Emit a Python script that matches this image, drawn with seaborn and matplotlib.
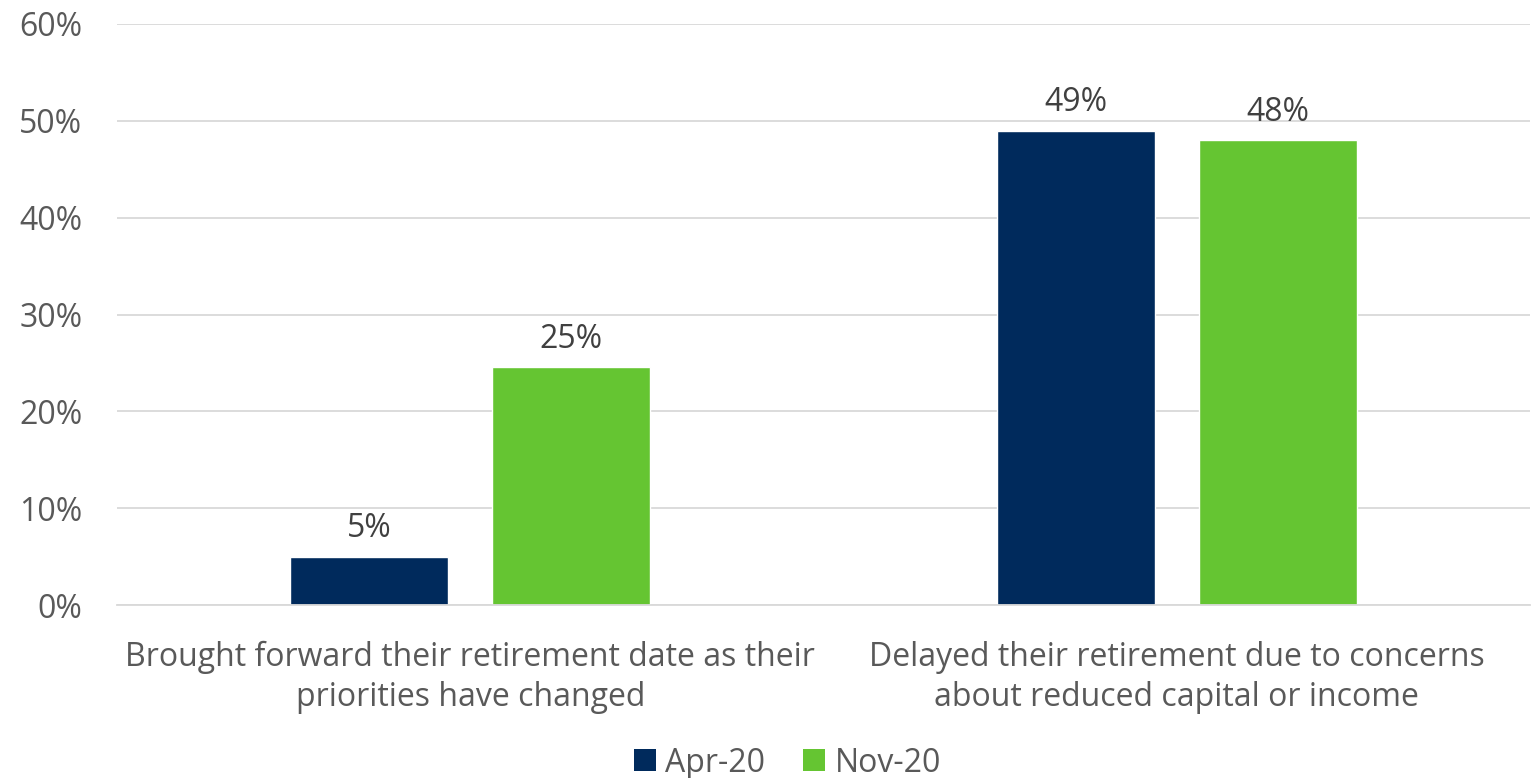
import matplotlib
matplotlib.use("Agg")
import matplotlib.pyplot as plt
import seaborn as sns
import pandas as pd
from matplotlib.patches import Patch

categories = [
    "Brought forward their retirement date as their\npriorities have changed",
    "Delayed their retirement due to concerns\nabout reduced capital or income",
]
series = ["Apr-20", "Nov-20"]
apr_values = [5.0, 49.0]
nov_values = [24.6, 48.0]
y_ticks = [0, 10, 20, 30, 40, 50, 60]
colors = ["#002A5C", "#65C532"]

df = pd.DataFrame({
    "category": categories * 2,
    "period": [series[0]] * 2 + [series[1]] * 2,
    "value": apr_values + nov_values,
})

sns.set_theme(style="white")
plt.rcParams["font.family"] = ["Open Sans", "DejaVu Sans"]

FS = 23

fig = plt.figure(figsize=(15.35, 7.78), dpi=100)
ax = fig.add_axes([117 / 1535, 1 - 605 / 778, (1530 - 117) / 1535, (605 - 24) / 778])

sns.barplot(data=df, x="category", y="value", hue="period", palette=colors,
            width=0.572, gap=0.22, saturation=1, ax=ax, legend=False,
            order=categories, hue_order=series)

ax.set_ylim(0, 60)
ax.set_xlim(-0.5, 1.5)
ax.set_yticks(y_ticks)
ax.set_yticklabels([f"{t}%" for t in y_ticks])
ax.yaxis.grid(True, color="#D9D9D9", linewidth=1.3)
ax.set_axisbelow(True)
for side in ["left", "right", "top"]:
    ax.spines[side].set_visible(False)
ax.spines["bottom"].set_color("#D9D9D9")
ax.spines["bottom"].set_linewidth(1.3)
ax.set_xlabel("")
ax.set_ylabel("")
ax.tick_params(axis="y", length=0, pad=25, labelsize=FS, labelcolor="#595959")
ax.tick_params(axis="x", length=0, pad=26, labelsize=FS, labelcolor="#595959")
for lbl in ax.get_xticklabels():
    lbl.set_multialignment("center")
    lbl.set_linespacing(1.27)

for container in ax.containers:
    ax.bar_label(container, labels=[f"{v:.0f}%" for v in container.datavalues],
                 padding=8, fontsize=FS, color="#404040")

handles = [Patch(facecolor=c, edgecolor="none", label=s) for c, s in zip(colors, series)]
fig.legend(handles=handles, loc="lower center", ncol=2, frameon=False,
           bbox_to_anchor=(0.513, -0.039), fontsize=FS, labelcolor="#595959",
           handlelength=0.68, handleheight=0.68, handletextpad=0.3, columnspacing=1.2)

fig.savefig("out.png", dpi=100)
